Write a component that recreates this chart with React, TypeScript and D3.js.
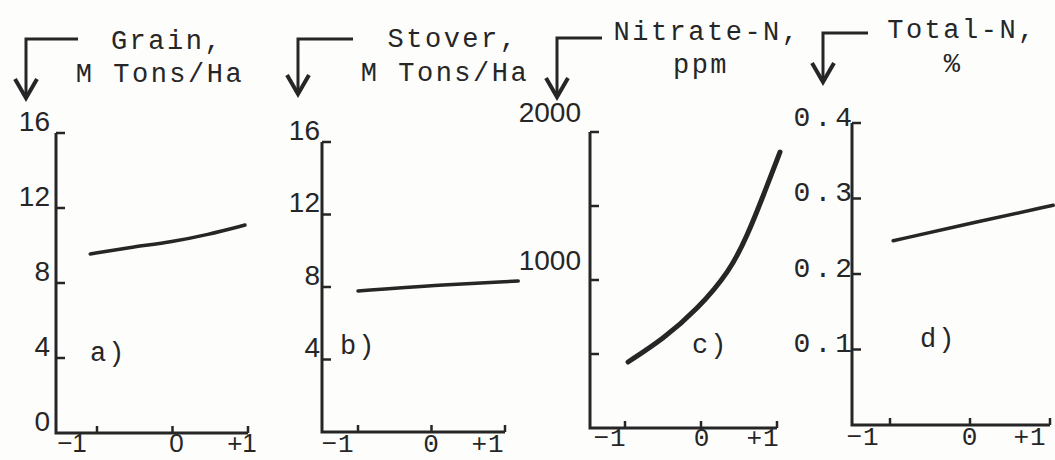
import React from "react";
import * as d3 from "d3";

const MONO = "'Liberation Mono', 'DejaVu Sans Mono', monospace";
const SANS = "'Liberation Sans', Arial, sans-serif";
const INK = "#262626";

// ---- data ----
const xTicks = [-1, 0, 1];
const xTickLabels = ["\u22121", "0", "+1"];

const grainX = [-1.09, -0.52, 0, 0.46, 0.96];
const grainY = [9.55, 9.92, 10.2, 10.57, 11.09];
const grainTicks = [4, 8, 12, 16];
const grainTickLabels = ["0", "4", "8", "12", "16"];
const grainLabelValues = [0, 4, 8, 12, 16];

const stoverX = [-1.0, 0.02, 1.18];
const stoverY = [7.78, 8.1, 8.33];
const stoverTicks = [4, 8, 12, 16];
const stoverTickLabels = ["4", "8", "12", "16"];
const stoverLabelValues = [4, 8, 12, 16];

const nitrateX = [-0.96, -0.5, -0.05, 0.38, 0.61, 0.82, 1.04];
const nitrateY = [446, 600, 800, 1060, 1300, 1570, 1865];
const nitrateTicks = [500, 1000, 1500, 2000];
const nitrateTickLabels = ["1000", "2000"];
const nitrateLabelValues = [1000, 2000];

const totalNX = [-0.96, 0, 1.04];
const totalNY = [0.244, 0.267, 0.291];
const totalNTicks = [0.1, 0.2, 0.3, 0.4];
const totalNTickLabels = ["0.1", "0.2", "0.3", "0.4"];
const totalNLabelValues = [0.1, 0.2, 0.3, 0.4];

const titles = [
  ["Grain,", "M Tons/Ha"],
  ["Stover,", "M Tons/Ha"],
  ["Nitrate-N,", "ppm"],
  ["Total-N,", "%"],
];
const panelTags = ["a)", "b)", "c)", "d)"];

// ---- layout (styles / positions) ----
const panels = [
  {
    xs: grainX, ys: grainY, ticks: grainTicks, labels: grainTickLabels, labelValues: grainLabelValues,
    yMax: 16, axisX: 56, xm1: 97, xp1: 248, yTop: 133, yBot: 433,
    yLabelDx: -6, yLabelDy: -12, yFont: SANS, yLs: 0,
    xFont: SANS, xLabelBase: 452, xDx: [-25, 4, -6], xLs: 0,
    tagX: 90, tagY: 361, lw: 3.5,
    arrow: { x: 26, y: 39, x2: 78, y2: 98 },
    t1: { x: 167, y: 49 }, t2: { x: 160, y: 82 },
  },
  {
    xs: stoverX, ys: stoverY, ticks: stoverTicks, labels: stoverTickLabels, labelValues: stoverLabelValues,
    yMax: 16, axisX: 322, xm1: 358, xp1: 505, yTop: 142, yBot: 432,
    yLabelDx: -2, yLabelDy: -12, yFont: SANS, yLs: 0,
    xFont: MONO, xLabelBase: 452, xDx: [-20, 0, -17], xLs: 1,
    tagX: 340, tagY: 354, lw: 3.5,
    arrow: { x: 298, y: 39, x2: 353, y2: 94 },
    t1: { x: 453, y: 47 }, t2: { x: 445, y: 81 },
  },
  {
    xs: nitrateX, ys: nitrateY, ticks: nitrateTicks, labels: nitrateTickLabels, labelValues: nitrateLabelValues,
    yMax: 2000, axisX: 590, xm1: 625, xp1: 777, yTop: 132, yBot: 428,
    yLabelDx: -9, yLabelDy: -20, yFont: SANS, yLs: 0,
    xFont: MONO, xLabelBase: 446, xDx: [-15, 1, -14], xLs: 1,
    tagX: 692, tagY: 353, lw: 5,
    arrow: { x: 557, y: 38, x2: 602, y2: 97 },
    t1: { x: 707, y: 40 }, t2: { x: 701, y: 73 },
  },
  {
    xs: totalNX, ys: totalNY, ticks: totalNTicks, labels: totalNTickLabels, labelValues: totalNLabelValues,
    yMax: 0.4, axisX: 852, xm1: 890, xp1: 1050, yTop: 123, yBot: 425,
    yLabelDx: 4, yLabelDy: -5, yFont: MONO, yLs: 4,
    xFont: MONO, xLabelBase: 445, xDx: [-27, 0, -20], xLs: 1,
    tagX: 920, tagY: 347, lw: 3.5,
    arrow: { x: 823, y: 33, x2: 868, y2: 82 },
    t1: { x: 962, y: 38 }, t2: { x: 953, y: 72 },
  },
];

function Panel({ p, i }: { p: any; i: number }) {
  const x = d3.scaleLinear().domain([-1, 1]).range([p.xm1, p.xp1]);
  const y = d3.scaleLinear().domain([0, p.yMax]).range([p.yBot, p.yTop]);
  const pts: [number, number][] = p.xs.map((v: number, k: number) => [v, p.ys[k]]);
  const line = d3
    .line<[number, number]>()
    .x((d) => x(d[0]))
    .y((d) => y(d[1]))
    .curve(d3.curveBasis);
  const a = p.arrow;
  return (
    <g>
      {/* title arrow */}
      <path
        d={`M${a.x2},${a.y} L${a.x},${a.y} L${a.x},${a.y2}`}
        fill="none"
        stroke={INK}
        strokeWidth={3}
      />
      <path
        d={`M${a.x - 11},${a.y2 - 19} L${a.x},${a.y2} L${a.x + 11},${a.y2 - 19}`}
        fill="none"
        stroke={INK}
        strokeWidth={4}
        strokeLinejoin="miter"
      />
      <text x={p.t1.x} y={p.t1.y} textAnchor="middle" fontFamily={MONO} fontSize={27} letterSpacing={2.5} fill={INK}>
        {titles[i][0]}
      </text>
      <text x={p.t2.x} y={p.t2.y} textAnchor="middle" fontFamily={MONO} fontSize={27} letterSpacing={2.5} fill={INK}>
        {titles[i][1]}
      </text>

      {/* axes */}
      <path
        d={`M${p.axisX},${y(p.yMax)} L${p.axisX},${y(0)} L${x(1)},${y(0)}`}
        fill="none"
        stroke={INK}
        strokeWidth={3}
      />
      {p.ticks.map((t: number) => (
        <line key={"yt" + t} x1={p.axisX} x2={p.axisX + 9} y1={y(t)} y2={y(t)} stroke={INK} strokeWidth={2.5} />
      ))}
      {xTicks.map((t) => (
        <line key={"xt" + t} x1={x(t)} x2={x(t)} y1={y(0)} y2={y(0) - 7} stroke={INK} strokeWidth={2.5} />
      ))}
      {p.labelValues.map((v: number, k: number) => (
        <text
          key={"yl" + v}
          x={p.axisX + p.yLabelDx}
          y={y(v) + p.yLabelDy}
          dominantBaseline="central"
          textAnchor="end"
          fontFamily={p.yFont}
          fontSize={28}
          letterSpacing={p.yLs}
          fill={INK}
        >
          {p.labels[k]}
        </text>
      ))}
      {xTicks.map((t, k) => (
        <text
          key={"xl" + t}
          x={x(t) + p.xDx[k]}
          y={p.xLabelBase}
          textAnchor="middle"
          fontFamily={p.xFont}
          fontSize={26}
          letterSpacing={p.xLs}
          fill={INK}
        >
          {xTickLabels[k]}
        </text>
      ))}

      {/* data */}
      <path d={line(pts) || ""} fill="none" stroke={INK} strokeWidth={p.lw} strokeLinecap="round" />

      <text x={p.tagX} y={p.tagY} fontFamily={MONO} fontSize={27} letterSpacing={2} fill={INK}>
        {panelTags[i]}
      </text>
    </g>
  );
}

export default function App() {
  return (
    <svg
      width={1055}
      height={460}
      style={{ position: "absolute", left: 0, top: 0, background: "#fdfdfc" }}
    >
      <rect width={1055} height={460} fill="#fdfdfc" />
      {panels.map((p, i) => (
        <Panel key={i} p={p} i={i} />
      ))}
    </svg>
  );
}
